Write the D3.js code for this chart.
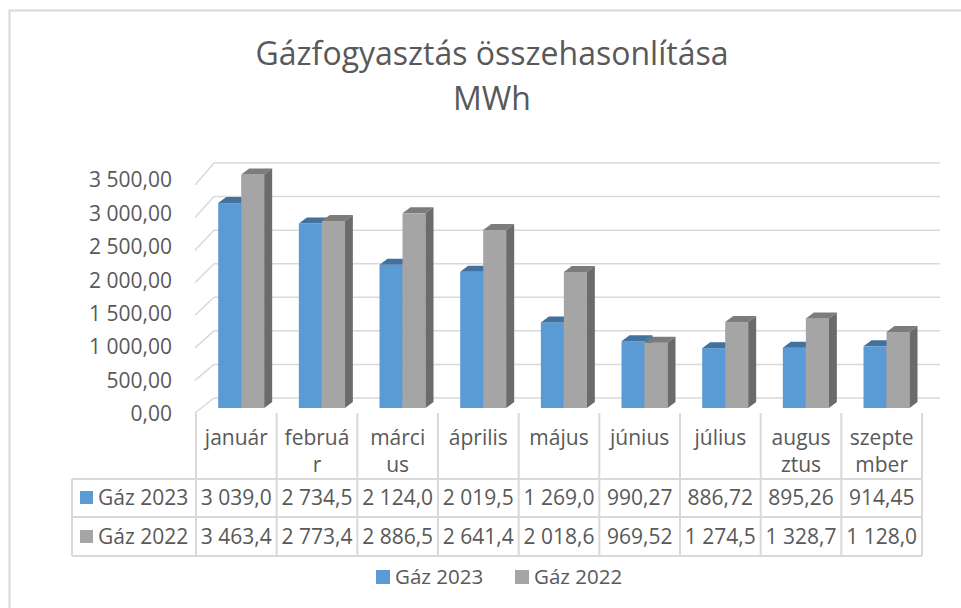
<!DOCTYPE html>
<html>
<head>
<meta charset="utf-8">
<script src="https://cdn.jsdelivr.net/npm/d3@7"></script>
<style>
  body { margin: 0; background: #fff; }
  svg { display: block; font-family: "Open Sans", sans-serif; }
</style>
</head>
<body>
<svg id="chart" width="961" height="608"></svg>
<script>
// data
const months = ["január", "február", "március", "április", "május", "június", "július", "augusztus", "szeptember"];
const monthLines = [["január"], ["februá", "r"], ["márci", "us"], ["április"], ["május"], ["június"], ["július"], ["augus", "ztus"], ["szepte", "mber"]];
const seriesNames = ["Gáz 2023", "Gáz 2022"];
const gas2023 = [3039.0, 2734.5, 2124.0, 2019.5, 1269.0, 990.27, 886.72, 895.26, 914.45];
const gas2022 = [3463.4, 2773.4, 2886.5, 2641.4, 2018.6, 969.52, 1274.5, 1328.7, 1128.0];
const yTicks = [0, 500, 1000, 1500, 2000, 2500, 3000, 3500];

const colors = {
  "Gáz 2023": { front: "#5b9bd5", top: "#41719c", side: "#3a6a96" },
  "Gáz 2022": { front: "#a5a5a5", top: "#7c7c7c", side: "#6b6b6b" }
};

const hu = d3.formatLocale({ decimal: ",", thousands: "\u00a0", grouping: [3], currency: ["", " Ft"] });
const fmtTick = hu.format(",.2f");
function fmtCell(v) {
  return v >= 1000 ? hu.format(",.1f")(v) : hu.format(",.2f")(v);
}

const svg = d3.select("#chart");
const textColor = "#595959";
const gridColor = "#d9d9d9";

// outer border
svg.append("rect")
  .attr("x", 9.5).attr("y", 10.5)
  .attr("width", 980).attr("height", 640)
  .attr("fill", "none").attr("stroke", gridColor).attr("stroke-width", 2);

// title
svg.append("text")
  .attr("x", 492).attr("y", 65)
  .attr("text-anchor", "middle")
  .attr("font-size", 32).attr("fill", textColor)
  .text("Gázfogyasztás összehasonlítása");
svg.append("text")
  .attr("x", 492).attr("y", 110)
  .attr("text-anchor", "middle")
  .attr("font-size", 32).attr("fill", textColor)
  .text("MWh");

// scales
const x = d3.scaleBand().domain(months).range([196, 922]);
const yFront = d3.scaleLinear().domain([0, 3500]).range([413, 185]);
const yBack = d3.scaleLinear().domain([0, 3500]).range([398, 163]);
const yLabel = d3.scaleLinear().domain([0, 3500]).range([414, 180]);
const yBar = d3.scaleLinear().domain([0, 3500]).range([408, 172]);
const backLeft = 214, backRight = 940, frontLeft = 195;

// gridlines: back wall + left wall diagonals
const grid = svg.append("g").attr("stroke", gridColor).attr("stroke-width", 1.5).attr("fill", "none");
yTicks.forEach(t => {
  grid.append("line")
    .attr("x1", backLeft).attr("x2", backRight)
    .attr("y1", yBack(t)).attr("y2", yBack(t));
  grid.append("line")
    .attr("x1", frontLeft).attr("x2", backLeft)
    .attr("y1", yFront(t)).attr("y2", yBack(t));
});

// y-axis labels
svg.append("g").selectAll("text")
  .data(yTicks).join("text")
  .attr("x", 172).attr("y", d => yLabel(d))
  .attr("dy", "0.35em")
  .attr("text-anchor", "end")
  .attr("font-size", 21).attr("fill", textColor)
  .text(d => fmtTick(d));

// bars (3D)
const bw = x.bandwidth();
const barW = 23, depthX = 8, depthY = -6;
const series = [
  { name: "Gáz 2023", values: gas2023, off: 0 },
  { name: "Gáz 2022", values: gas2022, off: 1 }
];
const bars = svg.append("g");
months.forEach((m, i) => {
  series.forEach(s => {
    const c = colors[s.name];
    const x0 = x(m) + bw * 0.275 + s.off * barW;
    const yt = yBar(s.values[i]);
    const yb = yBar(0);
    bars.append("rect")
      .attr("x", x0).attr("y", yt)
      .attr("width", barW).attr("height", yb - yt)
      .attr("fill", c.front);
    bars.append("path")
      .attr("d", `M${x0},${yt}L${x0 + depthX},${yt + depthY}L${x0 + barW + depthX},${yt + depthY}L${x0 + barW},${yt}Z`)
      .attr("fill", c.top);
    bars.append("path")
      .attr("d", `M${x0 + barW},${yt}L${x0 + barW + depthX},${yt + depthY}L${x0 + barW + depthX},${yb + depthY}L${x0 + barW},${yb}Z`)
      .attr("fill", c.side);
  });
});

// data table
const tableTop = 413, headBottom = 479, row1Bottom = 517, row2Bottom = 556, tableLeft = 72;
const tbl = svg.append("g").attr("stroke", gridColor).attr("stroke-width", 2).attr("fill", "none");
const cols = months.map(m => x(m)).concat([x.range()[1]]);
cols.forEach(cx => {
  tbl.append("line").attr("x1", cx).attr("x2", cx).attr("y1", tableTop).attr("y2", row2Bottom);
});
tbl.append("line").attr("x1", tableLeft).attr("x2", tableLeft).attr("y1", headBottom).attr("y2", row2Bottom);
[headBottom, row1Bottom, row2Bottom].forEach(ry => {
  tbl.append("line").attr("x1", tableLeft).attr("x2", x.range()[1]).attr("y1", ry).attr("y2", ry);
});

// header labels
const head = svg.append("g").attr("font-size", 21).attr("fill", textColor).attr("text-anchor", "middle");
months.forEach((m, i) => {
  monthLines[i].forEach((ln, j) => {
    head.append("text")
      .attr("x", x(m) + bw / 2)
      .attr("y", 445 + j * 27)
      .text(ln);
  });
});

// rows
const rowY = [498, 537];
series.forEach((s, k) => {
  const g = svg.append("g").attr("font-size", 21).attr("fill", textColor);
  g.append("rect")
    .attr("x", 80).attr("y", rowY[k] - 7)
    .attr("width", 13).attr("height", 13)
    .attr("fill", colors[s.name].front);
  g.append("text")
    .attr("x", 98).attr("y", rowY[k]).attr("dy", "0.35em")
    .text(s.name);
  months.forEach((m, i) => {
    g.append("text")
      .attr("x", x(m) + bw / 2).attr("y", rowY[k]).attr("dy", "0.35em")
      .attr("text-anchor", "middle")
      .text(fmtCell(s.values[i]));
  });
});

// legend
const legendX = [376, 515];
const lg = svg.append("g").attr("font-size", 20.5).attr("fill", textColor);
series.forEach((s, k) => {
  lg.append("rect")
    .attr("x", legendX[k]).attr("y", 570)
    .attr("width", 14).attr("height", 14)
    .attr("fill", colors[s.name].front);
  lg.append("text")
    .attr("x", legendX[k] + 19).attr("y", 577).attr("dy", "0.35em")
    .text(s.name);
});
</script>
</body>
</html>
